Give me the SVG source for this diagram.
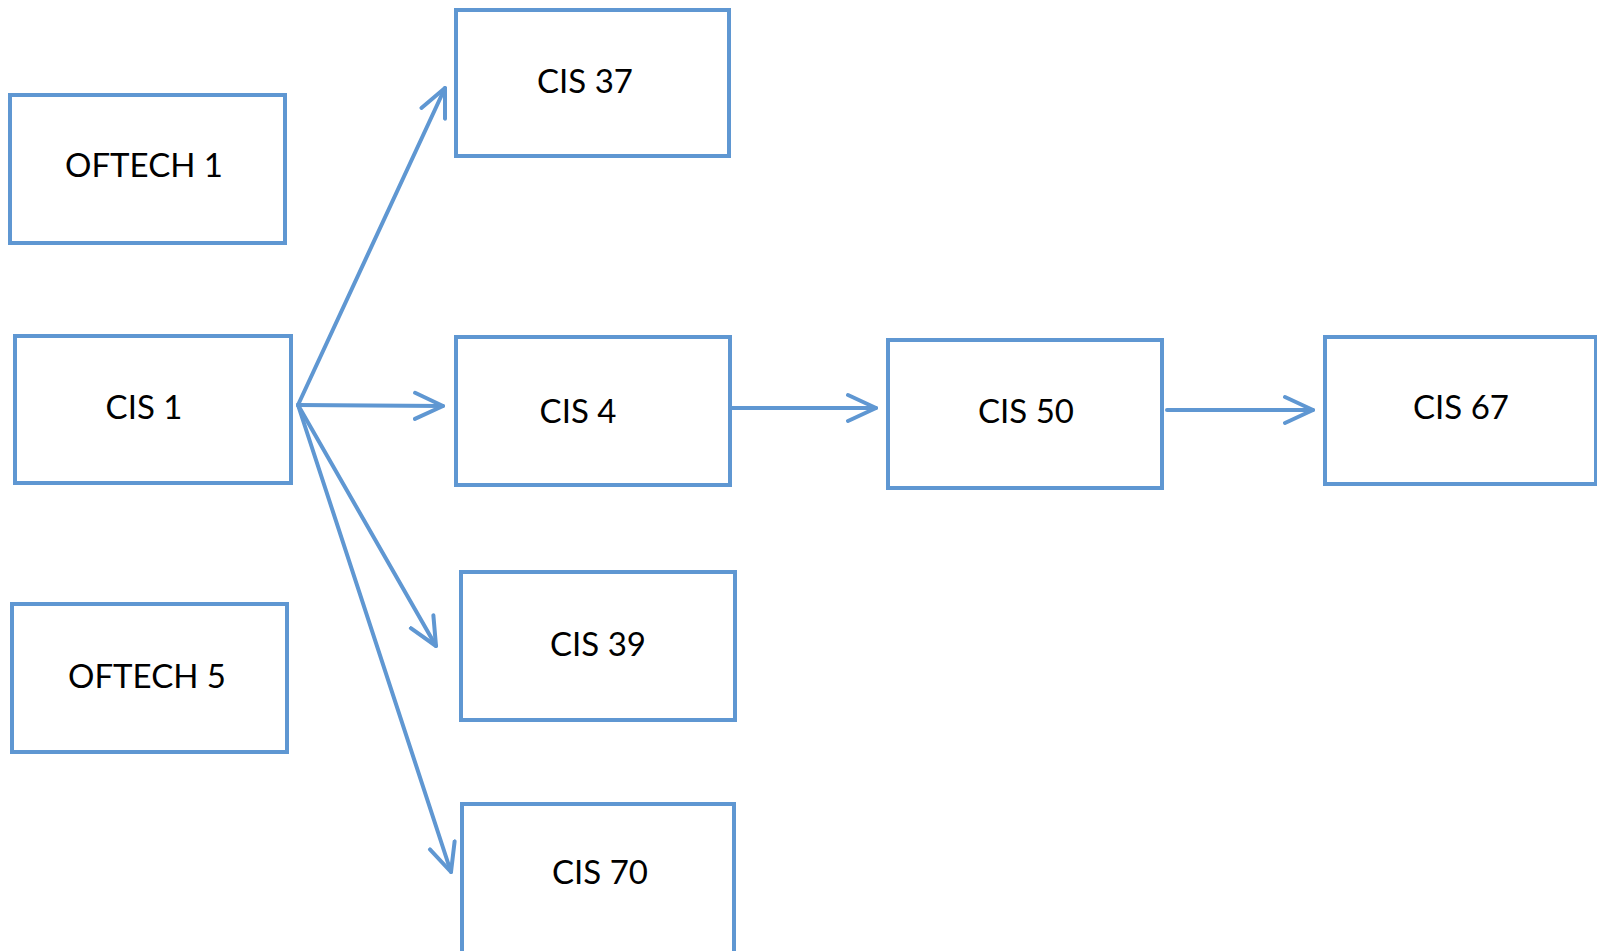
<svg xmlns="http://www.w3.org/2000/svg" width="1597" height="951" viewBox="0 0 1597 951">
<style>
.box{fill:#fff;stroke:#5f97d2;stroke-width:4}
.lbl{font-family:Lato,"Open Sans",sans-serif;font-size:33px;fill:#000;text-anchor:middle}
.edge{fill:none;stroke:#5f97d2;stroke-width:4;stroke-linecap:round;stroke-linejoin:round}
</style>
<defs>
<marker id="arr" viewBox="-30 -16 34 32" markerWidth="34" markerHeight="32" refX="0" refY="0" orient="auto" markerUnits="userSpaceOnUse">
<path d="M-28,-13 L0,0 L-28,13" fill="none" stroke="#5f97d2" stroke-width="4" stroke-linecap="round" stroke-linejoin="round"/>
</marker>
</defs>
<rect width="1597" height="951" fill="#fff"/>
<g id="connectors">
<line class="edge" x1="298" y1="405" x2="445" y2="88" marker-end="url(#arr)"/>
<line class="edge" x1="298" y1="405" x2="443" y2="406" marker-end="url(#arr)"/>
<line class="edge" x1="298" y1="405" x2="436" y2="646" marker-end="url(#arr)"/>
<line class="edge" x1="298" y1="405" x2="451" y2="872" marker-end="url(#arr)"/>
<line class="edge" x1="731" y1="408" x2="876" y2="408" marker-end="url(#arr)"/>
<line class="edge" x1="1167" y1="410" x2="1313" y2="410" marker-end="url(#arr)"/>
</g>
<g id="oftech1"><rect class="box" x="10" y="95" width="275" height="148"/><text class="lbl" x="144" y="177">OFTECH 1</text></g>
<g id="cis1"><rect class="box" x="15" y="336" width="276" height="147"/><text class="lbl" x="144" y="419">CIS 1</text></g>
<g id="oftech5"><rect class="box" x="12" y="604" width="275" height="148"/><text class="lbl" x="147" y="688">OFTECH 5</text></g>
<g id="cis37"><rect class="box" x="456" y="10" width="273" height="146"/><text class="lbl" x="585" y="93">CIS 37</text></g>
<g id="cis4"><rect class="box" x="456" y="337" width="274" height="148"/><text class="lbl" x="578" y="423">CIS 4</text></g>
<g id="cis39"><rect class="box" x="461" y="572" width="274" height="148"/><text class="lbl" x="598" y="656">CIS 39</text></g>
<g id="cis70"><rect class="box" x="462" y="804" width="272" height="160"/><text class="lbl" x="600" y="884">CIS 70</text></g>
<g id="cis50"><rect class="box" x="888" y="340" width="274" height="148"/><text class="lbl" x="1026" y="423">CIS 50</text></g>
<g id="cis67"><rect class="box" x="1325" y="337" width="271" height="147"/><text class="lbl" x="1461" y="419">CIS 67</text></g>
</svg>
